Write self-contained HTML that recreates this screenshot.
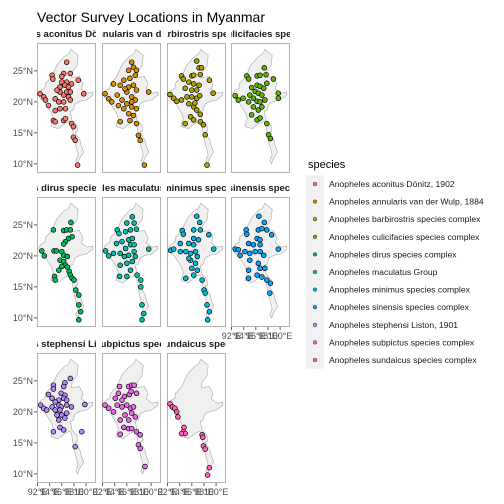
<!DOCTYPE html>
<html><head><meta charset="utf-8"><style>
body{margin:0;background:#fff;}
svg{display:block;font-family:"Liberation Sans",sans-serif;}
</style></head><body>
<svg id="chart" width="504" height="504">
<text x="37" y="22" font-size="14" fill="#000">Vector Survey Locations in Myanmar</text>
</svg>
<script>
const species = ["Anopheles aconitus Dönitz, 1902","Anopheles annularis van der Wulp, 1884","Anopheles barbirostris species complex","Anopheles culicifacies species complex","Anopheles dirus species complex","Anopheles maculatus Group","Anopheles minimus species complex","Anopheles sinensis species complex","Anopheles stephensi Liston, 1901","Anopheles subpictus species complex","Anopheles sundaicus species complex"];
const colors = ["#F8766D","#DB8E00","#AEA200","#64B200","#00BD5C","#00C1A7","#00BADE","#00A6FF","#B385FF","#EF67EB","#FF63B6"];
const latTicks = [25,20,15,10];
const lonTicks = [92,94,96,98,100];
const outline = [[97.5,28.5],[98.7,27.5],[98.5,25.8],[97.7,24.8],[97.6,23.9],[98.9,24.1],[99.5,22.9],[99.2,22.1],[100.2,21.4],[101.1,21.6],[101.1,21.1],[100.1,20.3],[99.0,20.1],[98.2,19.7],[97.8,18.6],[97.4,18.5],[97.7,17.0],[98.5,16.2],[98.6,15.3],[98.2,15.1],[99.0,13.8],[99.2,12.9],[99.6,11.9],[98.9,10.8],[98.6,10.0],[98.3,10.5],[98.7,11.5],[98.4,12.5],[98.0,14.0],[97.6,16.5],[97.3,16.9],[96.5,16.5],[95.4,15.7],[94.6,15.9],[94.2,16.1],[94.6,17.3],[94.3,18.2],[93.5,19.4],[93.1,20.0],[92.3,20.7],[92.2,21.3],[92.6,21.9],[93.2,22.2],[93.3,23.0],[94.2,23.9],[94.6,24.7],[95.2,26.0],[96.4,27.3],[97.1,27.7]];
const pts0 = [[96.8,26.4],[94.4,24.3],[94.5,23.7],[96.3,24.6],[97.4,24.6],[96.0,23.2],[96.8,23.2],[97.6,22.9],[95.7,22.4],[96.5,22.7],[97.1,22.4],[98.7,23.5],[92.4,21.3],[93.0,20.8],[93.3,20.3],[93.8,19.4],[94.9,20.5],[95.7,21.6],[96.3,21.1],[96.8,21.6],[97.1,20.8],[97.4,20.3],[95.5,20.0],[96.3,20.0],[96.6,18.9],[95.7,18.9],[94.9,18.6],[99.6,21.3],[94.6,17.0],[94.9,16.8],[96.3,17.0],[96.6,17.3],[97.6,16.5],[97.9,16.0],[97.9,14.3],[98.2,13.8],[98.6,9.8],[96.0,24.1],[97.4,21.6],[95.2,21.9]];
const pts1 = [[96.8,26.4],[97.1,25.6],[96.3,25.1],[97.6,25.1],[93.8,22.9],[95.5,23.5],[96.5,23.8],[97.4,24.3],[96.3,22.4],[97.1,22.7],[97.6,21.9],[92.4,21.3],[93.0,20.5],[93.5,20.0],[94.4,21.1],[95.2,20.3],[96.0,21.6],[96.8,20.8],[97.4,20.3],[96.0,19.7],[96.8,19.2],[95.5,18.9],[96.3,18.1],[97.1,17.8],[94.9,16.8],[96.5,17.0],[97.6,16.5],[97.9,14.6],[98.2,13.8],[98.9,9.8],[99.6,21.6],[94.9,22.7],[95.7,22.1],[96.8,20.0],[97.6,18.9],[94.6,19.4]];
const pts2 = [[96.8,26.6],[97.2,25.5],[97.6,25.5],[94.3,24.2],[94.6,23.7],[96.0,24.2],[96.3,24.3],[97.4,24.4],[98.9,23.5],[95.5,23.2],[96.3,22.9],[97.2,22.7],[94.9,22.2],[96.0,21.9],[96.8,21.9],[92.4,21.2],[93.0,20.6],[93.5,20.1],[94.3,20.3],[95.2,20.8],[96.0,20.8],[96.8,20.6],[97.3,21.0],[99.5,21.4],[96.3,19.2],[96.8,18.7],[97.4,18.0],[95.8,17.6],[94.9,16.5],[96.3,17.1],[97.4,16.8],[97.9,16.3],[98.2,14.7],[98.5,9.8],[95.5,19.7],[96.5,19.8]];
const pts3 = [[97.4,25.5],[94.5,24.2],[94.8,23.7],[96.2,24.2],[96.7,24.3],[97.7,24.4],[98.9,23.7],[97.8,23.0],[95.3,22.3],[96.2,22.7],[96.7,22.5],[97.3,22.2],[95.9,21.7],[96.4,21.4],[97.0,21.1],[92.6,21.0],[93.1,20.3],[93.9,20.6],[94.8,20.0],[95.6,20.6],[96.2,20.1],[96.7,20.0],[97.5,20.3],[99.7,21.4],[99.7,20.6],[95.6,19.2],[96.4,18.7],[95.3,17.9],[96.2,17.1],[96.7,17.4],[97.8,16.5],[98.1,14.7],[98.4,14.1],[95.0,21.1],[97.0,19.2]];
const pts4 = [[97.5,25.4],[94.6,24.2],[96.3,24.1],[96.8,24.2],[97.4,24.2],[97.7,23.1],[97.1,22.8],[96.6,22.3],[96.3,21.9],[92.7,20.8],[93.1,20.0],[94.7,20.8],[95.1,20.8],[96.0,20.7],[96.3,20.1],[95.7,19.3],[96.3,19.1],[96.6,18.5],[96.9,18.2],[96.0,18.3],[97.2,17.5],[97.4,16.9],[97.7,16.4],[98.0,16.1],[94.8,16.7],[94.9,16.1],[98.3,14.5],[98.8,13.7],[98.8,12.1],[99.1,11.0],[98.8,9.7],[95.5,17.7],[96.9,19.9]];
const pts5 = [[96.9,26.3],[97.2,25.3],[96.0,25.3],[94.4,24.2],[94.7,23.6],[95.8,23.9],[96.6,24.2],[97.6,24.3],[94.3,22.0],[95.2,22.3],[96.3,22.6],[96.9,22.8],[96.6,21.8],[97.2,21.8],[92.5,20.8],[93.0,20.0],[93.8,20.4],[94.9,20.4],[95.6,19.9],[96.3,20.1],[97.2,20.7],[97.4,19.9],[99.6,21.1],[94.9,18.5],[96.0,18.8],[96.9,19.1],[94.8,16.7],[96.0,16.7],[96.6,17.7],[97.7,16.9],[98.3,16.1],[98.3,15.0],[98.5,12.1],[98.8,10.7],[98.5,9.7],[95.8,21.2]];
const pts6 = [[96.8,26.4],[97.3,25.4],[97.4,24.2],[96.3,24.2],[94.4,24.1],[94.6,23.5],[98.8,23.4],[96.3,22.8],[97.1,22.6],[94.1,22.0],[95.5,22.0],[96.3,21.8],[92.5,20.9],[93.0,21.1],[94.1,20.7],[95.0,20.7],[95.8,20.4],[96.6,20.7],[96.9,19.9],[99.6,21.1],[95.8,19.3],[96.6,18.8],[96.0,18.0],[96.9,17.7],[95.0,16.4],[96.3,16.9],[97.7,16.1],[98.0,14.5],[98.2,14.0],[98.5,12.1],[98.9,11.0],[98.6,9.7],[95.5,19.6]];
const pts7 = [[96.5,26.4],[97.4,25.4],[96.4,24.2],[97.0,24.4],[94.4,24.2],[94.5,23.5],[97.8,24.2],[98.6,23.4],[96.2,22.8],[96.7,22.6],[94.8,22.0],[95.6,21.8],[96.7,21.8],[92.6,21.1],[93.1,21.0],[93.4,20.1],[94.2,20.7],[95.0,20.4],[95.9,20.7],[96.7,20.7],[97.3,20.1],[99.7,21.1],[95.0,19.3],[96.4,18.8],[96.7,18.0],[94.8,17.7],[94.8,16.4],[96.2,16.9],[97.0,16.6],[97.8,16.1],[98.4,15.6],[98.3,14.0],[97.5,18.0]];
const pts8 = [[97.4,25.4],[96.5,24.7],[96.3,24.1],[94.6,24.3],[94.6,23.7],[95.9,23.0],[96.5,22.7],[93.8,22.8],[94.4,22.2],[95.5,21.9],[96.3,22.2],[96.8,21.9],[92.5,21.1],[93.0,20.6],[93.5,20.3],[94.4,20.8],[94.9,20.3],[95.5,21.1],[95.9,20.8],[96.8,21.1],[97.6,20.8],[99.8,21.2],[95.2,19.5],[96.0,19.5],[96.8,19.8],[95.5,18.7],[96.5,19.0],[95.7,17.5],[96.3,17.1],[94.6,16.8],[99.3,16.8],[98.2,14.4],[94.9,21.6],[95.7,20.3]];
const pts9 = [[96.3,24.1],[96.8,24.3],[97.2,24.3],[94.8,24.1],[94.6,23.0],[95.6,22.5],[96.4,22.8],[96.7,23.3],[97.6,23.0],[94.1,22.2],[95.2,21.9],[92.4,21.1],[93.0,20.6],[93.8,20.0],[94.4,21.1],[95.2,20.8],[96.0,21.1],[96.6,20.6],[97.1,20.8],[95.7,19.5],[96.8,19.8],[94.9,18.7],[96.3,18.7],[95.5,17.5],[96.3,17.3],[96.8,17.3],[94.9,16.4],[97.6,16.8],[98.2,16.3],[97.9,14.7],[98.2,14.1],[99.0,11.2],[97.4,19.2]];
const pts10 = [[92.4,21.3],[92.8,20.8],[93.2,20.6],[93.5,20.0],[93.7,19.2],[94.7,17.5],[94.6,16.8],[94.9,16.5],[97.7,16.3],[97.8,15.9],[97.9,14.5],[98.2,14.0],[98.9,11.0],[98.6,9.8],[94.3,16.5]];
const points = [pts0,pts1,pts2,pts3,pts4,pts5,pts6,pts7,pts8,pts9,pts10];

const NS="http://www.w3.org/2000/svg";
const svg=document.getElementById('chart');
const colX=[37,102,167,231], rowY=[43,197,353], PW=59, PH=130;
const lonMin=91.9, latMax=29.5, pxLon=6.06, pxLat=6.2;
function mk(tag,attrs,parent){const e=document.createElementNS(NS,tag);for(const k in attrs)e.setAttribute(k,attrs[k]);(parent||svg).appendChild(e);return e;}
const defs=mk('defs',{});

species.forEach((sp,i)=>{
  const c=i%4, r=Math.floor(i/4), x0=colX[c], y0=rowY[r];
  const sx=lon=>x0+(lon-lonMin)*pxLon;
  const sy=lat=>y0+(latMax-lat)*pxLat;
  const g=mk('g',{});
  
  
  const cp=mk('clipPath',{id:'clip'+i},defs);
  mk('rect',{x:x0,y:y0-16,width:PW,height:16},cp);
  const st=mk('text',{x:x0+PW/2,y:y0-6,'text-anchor':'middle','font-size':9.5,'font-weight':'bold',fill:'#1a1a1a','clip-path':'url(#clip'+i+')'},g);
  st.textContent=sp;
  
  
  const bd=mk('rect',{x:x0+0.5,y:y0+0.5,width:PW-1,height:PH-1,fill:'#fff',stroke:'#b3b3b3','stroke-width':1},g);
  
  
  const poly=mk('polygon',{points:outline.map(p=>sx(p[0]).toFixed(1)+','+sy(p[1]).toFixed(1)).join(' '),fill:'#f0f0f0',stroke:'#a8a8a8','stroke-width':0.6},g);
  
  
  points[i].forEach(p=>{
    const pt=mk('circle',{cx:sx(p[0]).toFixed(1),cy:sy(p[1]).toFixed(1),r:2.4,fill:colors[i],stroke:'#000','stroke-width':0.7},g);
    
    
  });
  if(c===0){
    latTicks.forEach(t=>{
      const y=sy(t);
      mk('line',{x1:x0-3,x2:x0,y1:y,y2:y,stroke:'#333','stroke-width':0.8},g);
      const tl=mk('text',{x:x0-4,y:y+3.2,'text-anchor':'end','font-size':9,fill:'#4d4d4d'},g);
      tl.textContent=t+'°N';
      
      
    });
  }
  const bottom = (r===2) || (r===1 && c===3);
  if(bottom){
    lonTicks.forEach(t=>{
      const x=sx(t);
      mk('line',{x1:x,x2:x,y1:y0+PH,y2:y0+PH+3,stroke:'#333','stroke-width':0.8},g);
      const tl=mk('text',{x:x,y:y0+PH+12,'text-anchor':'middle','font-size':9,fill:'#4d4d4d'},g);
      tl.textContent=t+'°E';
      
      
    });
  }
});

const lg=mk('g',{});


const lt=mk('text',{x:308,y:168,'font-size':11,fill:'#000'},lg);
lt.textContent='species';


species.forEach((sp,i)=>{
  const y=184+i*17.6;
  mk('rect',{x:306,y:y-8.8,width:18,height:17.6,fill:'#f2f2f2'},lg);
  const d=mk('circle',{cx:315,cy:y,r:1.8,fill:colors[i],stroke:'#000','stroke-width':0.4},lg);
  
  
  const t=mk('text',{x:329,y:y+3,'font-size':8.6,fill:'#1a1a1a'},lg);
  t.textContent=sp;
  
  
});
</script>
</body></html>
